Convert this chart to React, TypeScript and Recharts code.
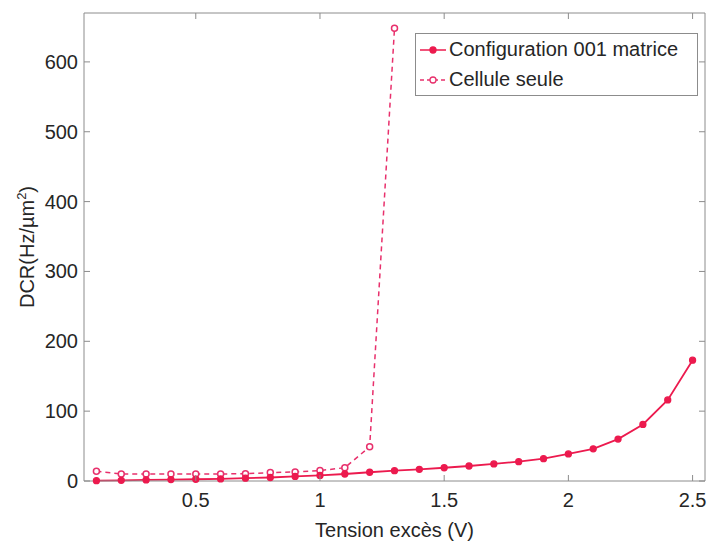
import React from 'react';
import { LineChart, Line, XAxis, YAxis, ReferenceLine } from 'recharts';

const tensions = [0.1, 0.2, 0.3, 0.4, 0.5, 0.6, 0.7, 0.8, 0.9, 1.0, 1.1, 1.2, 1.3, 1.4, 1.5, 1.6, 1.7, 1.8, 1.9, 2.0, 2.1, 2.2, 2.3, 2.4, 2.5];
const matrice = [0.5, 1, 1.5, 2, 2.5, 3, 4, 5, 6.5, 8, 10, 12.5, 14.8, 16.7, 19, 21.5, 24.4, 27.7, 32, 38.7, 46, 60, 81, 116, 173];
const cellule = [14, 10, 10, 10, 10, 10, 10.5, 12, 13, 15, 19, 49, 648];

const xTicks = [0.5, 1, 1.5, 2, 2.5];
const yTicks = [0, 100, 200, 300, 400, 500, 600];

const SERIES_A = 'Configuration 001 matrice';
const SERIES_B = 'Cellule seule';
const RED = '#ec1a4e';
const PINK = '#e8306c';

const data = tensions.map((t, i) => ({
  x: t,
  a: matrice[i],
  b: i < cellule.length ? cellule[i] : undefined,
}));

// plot box (px, inside the chart svg)
const LEFT = 84;
const RIGHT = 705;
const TOP = 13;
const BOTTOM = 481;
const FONT = '"Liberation Sans", Arial, sans-serif';
const AXIS = '#8c8c8c';

const XTick = (props: any) => {
  const { x, payload } = props;
  return (
    <g>
      <line x1={x} x2={x} y1={BOTTOM} y2={BOTTOM - 6} stroke={AXIS} />
      <line x1={x} x2={x} y1={TOP} y2={TOP + 6} stroke={AXIS} />
      <text x={x} y={BOTTOM + 26} textAnchor="middle" fontSize={20} fill="#262626" fontFamily={FONT}>
        {payload.value}
      </text>
    </g>
  );
};

const YTick = (props: any) => {
  const { y, payload } = props;
  return (
    <g>
      <line x1={LEFT} x2={LEFT + 6} y1={y} y2={y} stroke={AXIS} />
      <line x1={RIGHT} x2={RIGHT - 6} y1={y} y2={y} stroke={AXIS} />
      <text x={LEFT - 6} y={y + 7} textAnchor="end" fontSize={20} fill="#262626" fontFamily={FONT}>
        {payload.value}
      </text>
    </g>
  );
};

const LegendBox = () => (
  <div
    style={{
      position: 'absolute',
      left: 415,
      top: 33,
      width: 281,
      height: 61,
      border: '1px solid #8c8c8c',
      background: '#fff',
      fontFamily: FONT,
      fontSize: 20,
      color: '#262626',
    }}
  >
    {[
      { label: SERIES_A, color: RED, dash: undefined, fill: RED },
      { label: SERIES_B, color: PINK, dash: '4 3', fill: '#fff' },
    ].map((e) => (
      <div key={e.label} style={{ display: 'flex', alignItems: 'center', height: 29, marginTop: 1 }}>
        <svg width={30} height={20} style={{ marginLeft: 2 }}>
          <line x1={2} x2={28} y1={10} y2={10} stroke={e.color} strokeWidth={1.5} strokeDasharray={e.dash} />
          <circle cx={15} cy={10} r={3} fill={e.fill} stroke={e.color} strokeWidth={1.3} />
        </svg>
        <span style={{ marginLeft: 1 }}>{e.label}</span>
      </div>
    ))}
  </div>
);

export default function App() {
  return (
    <div style={{ position: 'absolute', left: 0, top: 0, width: 710, height: 542, background: '#fff' }}>
      <LineChart width={710} height={542} data={data} margin={{ top: TOP, right: 710 - RIGHT, bottom: 0, left: 0 }}>
        <XAxis
          dataKey="x"
          type="number"
          domain={[0.05, 2.55]}
          ticks={xTicks}
          tick={<XTick />}
          tickLine={false}
          stroke={AXIS}
          height={542 - BOTTOM}
          label={{ value: 'Tension excès (V)', position: 'insideBottom', offset: 5, fontSize: 20, fill: '#262626', fontFamily: FONT }}
        />
        <YAxis
          type="number"
          domain={[0, 670]}
          ticks={yTicks}
          tick={<YTick />}
          tickLine={false}
          stroke={AXIS}
          width={LEFT}
          label={() => (
            <text
              transform={`translate(34, ${(TOP + BOTTOM) / 2}) rotate(-90)`}
              textAnchor="middle"
              fontSize={20}
              fill="#262626"
              fontFamily={FONT}
            >
              DCR(Hz/µm<tspan dy={-8} fontSize={13}>2</tspan><tspan dy={8}>)</tspan>
            </text>
          )}
        />
        <ReferenceLine y={670} stroke={AXIS} />
        <ReferenceLine x={2.55} stroke={AXIS} />
        <Line
          name={SERIES_B}
          dataKey="b"
          stroke={PINK}
          strokeWidth={1.5}
          strokeDasharray="5 4"
          dot={{ r: 3, fill: '#fff', stroke: PINK, strokeWidth: 1.5, strokeDasharray: '' }}
          isAnimationActive={false}
          connectNulls={false}
        />
        <Line
          name={SERIES_A}
          dataKey="a"
          stroke={RED}
          strokeWidth={1.8}
          dot={{ r: 3, fill: RED, stroke: RED, strokeWidth: 1.3 }}
          isAnimationActive={false}
        />
      </LineChart>
      <LegendBox />
    </div>
  );
}
